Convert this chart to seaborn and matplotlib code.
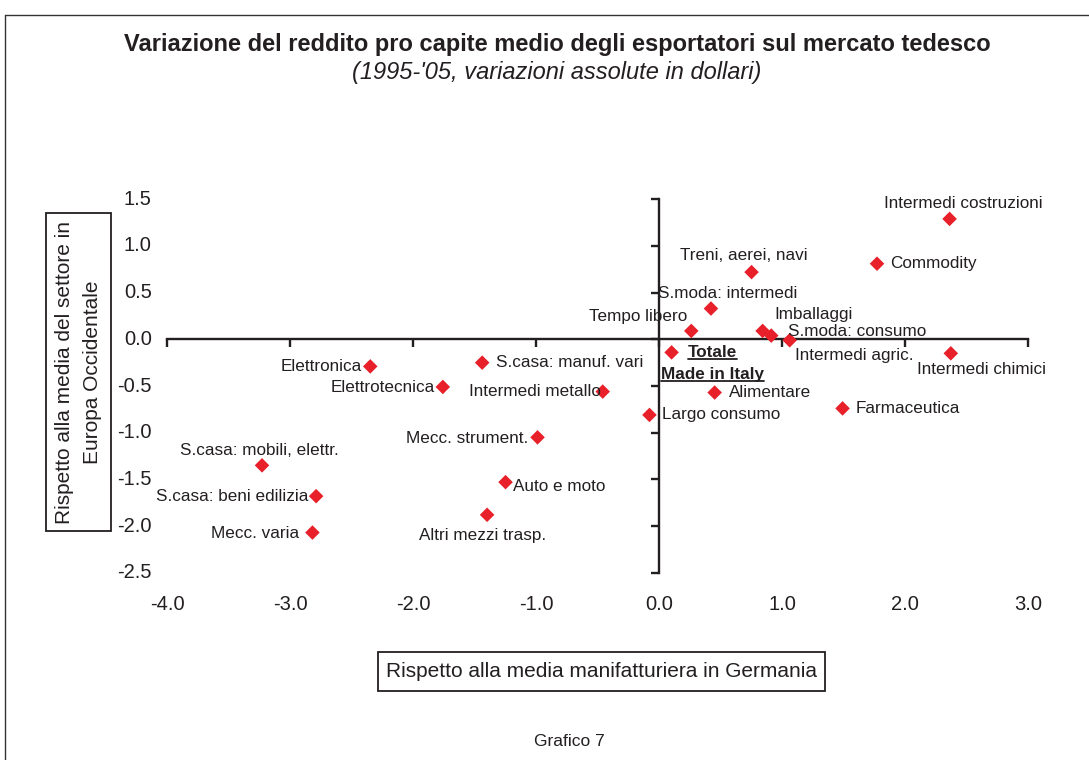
import matplotlib
matplotlib.use("Agg")
import matplotlib.pyplot as plt
from matplotlib.lines import Line2D
from matplotlib.patches import Rectangle
import seaborn as sns
import pandas as pd

# ---------------- data ----------------
sectors = [
    "Intermedi costruzioni", "Commodity", "Treni, aerei, navi", "S.moda: intermedi",
    "Tempo libero", "Imballaggi", "S.moda: consumo", "Intermedi agric.",
    "Totale\nMade in Italy", "Intermedi chimici", "Alimentare", "Farmaceutica",
    "Largo consumo", "Intermedi metallo", "S.casa: manuf. vari", "Elettronica",
    "Elettrotecnica", "Mecc. strument.", "S.casa: mobili, elettr.",
    "S.casa: beni edilizia", "Mecc. varia", "Auto e moto", "Altri mezzi trasp.",
]
vs_germany = [2.36, 1.77, 0.75, 0.42, 0.26, 0.84, 0.91, 1.06, 0.10, 2.37, 0.45, 1.49,
              -0.08, -0.46, -1.44, -2.35, -1.76, -0.99, -3.23, -2.79, -2.82, -1.25, -1.40]
vs_west_europe = [1.29, 0.81, 0.72, 0.33, 0.09, 0.09, 0.04, -0.01, -0.14, -0.15, -0.57, -0.74,
                  -0.81, -0.56, -0.25, -0.29, -0.51, -1.05, -1.35, -1.68, -2.07, -1.53, -1.88]
x_ticks = [-4.0, -3.0, -2.0, -1.0, 0.0, 1.0, 2.0, 3.0]
y_ticks = [-2.5, -2.0, -1.5, -1.0, -0.5, 0.0, 0.5, 1.0, 1.5]

title = "Variazione del reddito pro capite medio degli esportatori sul mercato tedesco"
subtitle = "(1995-'05, variazioni assolute in dollari)"
x_label = "Rispetto alla media manifatturiera in Germania"
y_label = "Rispetto alla media del settore in\nEuropa Occidentale"
caption = "Grafico 7"

# label placement (offset in pixels from point, horizontal alignment)
label_style = {
    "Intermedi costruzioni": (14, 15, "center"),
    "Commodity": (13, 0, "left"),
    "Treni, aerei, navi": (-8, 17, "center"),
    "S.moda: intermedi": (17, 15, "center"),
    "Tempo libero": (-4, 14, "right"),
    "Imballaggi": (51, 16, "center"),
    "S.moda: consumo": (17, 4, "left"),
    "Intermedi agric.": (5, -15, "left"),
    "Totale\nMade in Italy": (41, 0, "center"),
    "Intermedi chimici": (31, -16, "center"),
    "Alimentare": (14, 0, "left"),
    "Farmaceutica": (13, 0, "left"),
    "Largo consumo": (13, 0, "left"),
    "Intermedi metallo": (-2, 0, "right"),
    "S.casa: manuf. vari": (14, 0, "left"),
    "Elettronica": (-8, 0, "right"),
    "Elettrotecnica": (-8, -1, "right"),
    "Mecc. strument.": (-9, -1, "right"),
    "S.casa: mobili, elettr.": (-3, 15, "center"),
    "S.casa: beni edilizia": (-8, 0, "right"),
    "Mecc. varia": (-13, -1, "right"),
    "Auto e moto": (7, -4, "left"),
    "Altri mezzi trasp.": (-5, -21, "center"),
}

df = pd.DataFrame({"sector": sectors, "x": vs_germany, "y": vs_west_europe})

# ---------------- style ----------------
sns.set_style("white")
plt.rcParams["font.family"] = ["Liberation Sans", "DejaVu Sans"]
INK = "#231f20"
RED = "#e8202a"

W, H = 1089, 760
fig = plt.figure(figsize=(W / 100, H / 100), dpi=100)
fig.patch.set_facecolor("white")

ax_l, ax_r, ax_t, ax_b = 167.3, 1028.3, 199.3, 572.7
ax = fig.add_axes([ax_l / W, 1 - ax_b / H, (ax_r - ax_l) / W, (ax_b - ax_t) / H])
ax.set_facecolor("none")

sns.scatterplot(data=df, x="x", y="y", marker="D", s=55, color=RED,
                edgecolor="none", linewidth=0, ax=ax, zorder=3, legend=False)

ax.set_xlim(x_ticks[0], x_ticks[-1])
ax.set_ylim(y_ticks[0], y_ticks[-1])
ax.set_xlabel("")
ax.set_ylabel("")

for side in ["top", "right"]:
    ax.spines[side].set_visible(False)
for side in ["left", "bottom"]:
    ax.spines[side].set_position("zero")
    ax.spines[side].set_color(INK)
    ax.spines[side].set_linewidth(1.7)
ax.set_xticks(x_ticks)
ax.set_yticks(y_ticks)
ax.tick_params(axis="both", direction="out", length=6, width=1.7, color=INK,
               bottom=True, left=True, top=False, right=False,
               labelbottom=False, labelleft=False)

# tick labels placed at the outer edge of the plotting area
xtr = ax.get_xaxis_transform()
ytr = ax.get_yaxis_transform()
for v in x_ticks:
    ax.text(v, -32 / (ax_b - ax_t), f"{v:.1f}", transform=xtr, ha="center", va="center",
            fontsize=14.5, color=INK)
for v in y_ticks:
    ax.text(-15.5 / (ax_r - ax_l), v, f"{v:.1f}", transform=ytr, ha="right", va="center",
            fontsize=14.5, color=INK)

# point labels
special = []
for name, xv, yv in zip(sectors, vs_germany, vs_west_europe):
    dx, dy, ha = label_style[name]
    if "\n" in name:
        lines = name.split("\n")
        for i, line in enumerate(lines):
            t = ax.annotate(line, (xv, yv), xytext=(dx, dy - 21.7 * i), textcoords="offset pixels",
                            ha=ha, va="center", fontsize=12.3, fontweight="bold", color=INK)
            special.append(t)
    else:
        ax.annotate(name, (xv, yv), xytext=(dx, dy), textcoords="offset pixels",
                    ha=ha, va="center", fontsize=12.3, color=INK)

# titles
fig.text(557 / W, 1 - 44 / H, title, ha="center", va="center", fontsize=17,
         fontweight="bold", color=INK)
fig.text(557 / W, 1 - 73 / H, subtitle, ha="center", va="center", fontsize=17,
         style="italic", color=INK)

# boxed axis titles
def frame_box(x0, y0, x1, y1):
    fig.add_artist(Rectangle((x0 / W, 1 - y1 / H), (x1 - x0) / W, (y1 - y0) / H,
                             transform=fig.transFigure, fc="white", ec=INK, lw=1.3, zorder=2))

frame_box(378, 652, 825, 691)
fig.text(601.5 / W, 1 - 671.5 / H, x_label, ha="center", va="center", fontsize=15,
         color=INK, zorder=3)
frame_box(46, 213, 111, 531)
fig.text(78.5 / W, 1 - 372 / H, y_label, ha="center", va="center", rotation=90,
         fontsize=15, color=INK, linespacing=1.55, multialignment="center", zorder=3)

fig.text(569 / W, 1 - 742 / H, caption, ha="center", va="center", fontsize=12.5, color=INK)

# outer frame (top and left edges visible)
fx = 5 / W
fy = 1 - 14.5 / H
fig.add_artist(Line2D([fx, 1.0], [fy, fy], transform=fig.transFigure, color="#333333", lw=1.0))
fig.add_artist(Line2D([fx, fx], [0.0, fy], transform=fig.transFigure, color="#333333", lw=1.0))

# underline the bold total label
fig.canvas.draw()
renderer = fig.canvas.get_renderer()
inv = fig.transFigure.inverted()
for t in special:
    bb = t.get_window_extent(renderer)
    (x0, y0), (x1, _) = inv.transform([[bb.x0, bb.y0 + 0.5], [bb.x1, bb.y0 + 0.5]])
    fig.add_artist(Line2D([x0, x1], [y0, y0], transform=fig.transFigure, color=INK, lw=1.3))

fig.savefig("out.png", dpi=100, facecolor="white")
